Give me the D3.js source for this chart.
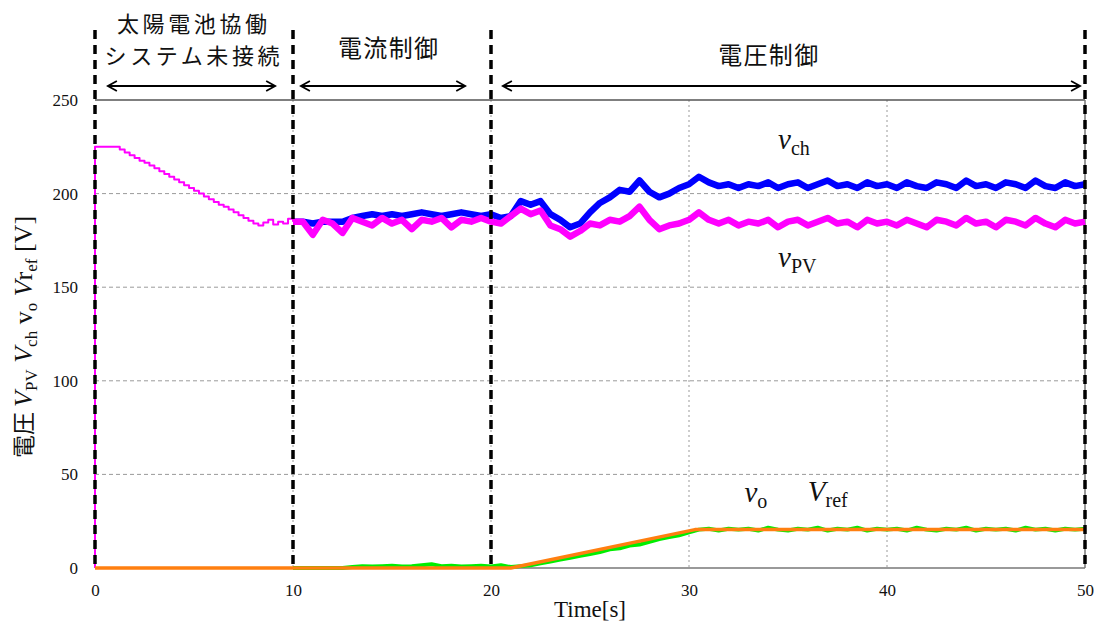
<!DOCTYPE html>
<html>
<head>
<meta charset="UTF-8">
<script src="https://d3js.org/d3.v7.min.js"></script>
<style>
  body { margin: 0; background: #fff; }
  text { font-family: "Liberation Serif", "Times New Roman", serif; fill: #111; }
  .jp { font-family: "Noto Sans CJK JP", sans-serif; }
  .grid { stroke: #9a9a9a; stroke-width: 1; }
  .series { fill: none; stroke-linejoin: round; }
</style>
</head>
<body>
<svg width="1096" height="625"></svg>
<script>
// ---- data ----
const yTicks = [0, 50, 100, 150, 200, 250];
const xTicks = [0, 10, 20, 30, 40, 50];

// V_PV : start jump, then 0.25 s samples to 10 s, then 0.5 s samples
const pvTimes = [0].concat(d3.range(0, 10, 0.25), d3.range(10, 50.001, 0.5));
const pvValues = [0,
  225, 225, 225, 225, 225, 223.5, 222, 220.5, 219, 217.5, 216.5, 215, 213.5, 212, 210.5, 209,
  207.5, 206, 204.5, 203, 201.5, 200, 198.5, 197, 195.5, 194, 193, 191.5, 190, 188.5, 187, 185.5,
  184, 183, 184.5, 186, 183.5, 185, 184, 186.5,
  185, 185, 178, 186, 184, 179, 187, 185, 183, 187, 184, 186, 181, 186, 185, 187, 182, 186, 185, 187, 185,
  184, 188, 192, 189, 191, 183, 181, 177, 180, 184, 183, 186, 185, 188, 193, 186, 181, 183, 184, 186,
  190, 186, 184, 186, 183, 185, 184, 186, 182, 185, 186, 183, 185, 187, 184, 185, 182, 186, 184, 185,
  183, 186, 184, 182, 186, 185, 183, 187, 184, 185, 182, 186, 185, 183, 187, 184, 182, 186, 184, 185];

// V_ch and v_o : 0.5 s samples from 10 s
const chTimes = d3.range(10, 50.001, 0.5);
const chValues = [
  185, 185, 184, 185, 185, 185, 187, 188, 189, 188, 189, 188, 189, 190, 189, 188, 189, 190, 189, 188, 189,
  187, 188, 196, 194, 196, 189, 186, 182, 184, 190, 195, 198, 202, 201, 207, 201, 198, 200, 203, 205,
  209, 206, 204, 205, 203, 205, 204, 206, 203, 205, 206, 203, 205, 207, 204, 205, 203, 206, 204, 205,
  203, 206, 204, 203, 206, 205, 203, 207, 204, 205, 203, 206, 205, 203, 207, 204, 203, 206, 204, 205];

const voTimes = d3.range(10, 50.001, 0.5);
const voValues = [
  0, 0, 0, 0, 0, 0, 0.5, 1, 0.8, 1, 1.2, 0.8, 1, 1.5, 2, 1, 1.2, 0.8, 1, 1.2, 0.8,
  1.5, 0.5, 1, 1.5, 2.5, 3.5, 4.5, 5.5, 6.5, 7.5, 8.5, 10, 10.5, 12, 12.5, 14, 15.5, 16.5, 17.5, 19,
  20.5, 21, 20, 21, 20.5, 21, 20, 21.5, 20.5, 20, 21, 20.5, 21.5, 20, 21, 20.5, 21.5, 20, 21, 20.5,
  21, 20, 21.5, 20.5, 20, 21, 20.5, 21.5, 20, 21, 20.5, 21, 20, 21.5, 20.5, 21, 20, 21, 20.5, 21];

// V_ref : breakpoints
const refTimes = [0, 21, 30.3, 50];
const refValues = [0, 0, 20.5, 20.5];

// phases along the top
const phaseLines = [0, 10, 20, 50];
const phaseNames = [["太陽電池協働", "システム未接続"], ["電流制御"], ["電圧制御"]];
const phaseCenter = [4.9, 14.8, 34.0];
const arrowFrom = [0.65, 10.4, 20.6];
const arrowTo = [9.1, 18.7, 49.75];

// ---- layout ----
const svg = d3.select("svg");
const x = d3.scaleLinear().domain([0, 50]).range([95, 1085]);
const y = d3.scaleLinear().domain([0, 250]).range([568, 100]);

// grid
svg.append("g").selectAll("line").data([50, 100, 150, 200]).enter().append("line")
  .attr("class", "grid").attr("stroke-dasharray", "4,3")
  .attr("x1", x(0)).attr("x2", x(50)).attr("y1", d => y(d)).attr("y2", d => y(d));
svg.append("g").selectAll("line").data([10, 20, 30, 40]).enter().append("line")
  .attr("class", "grid").attr("stroke-dasharray", "2,3")
  .attr("x1", d => x(d)).attr("x2", d => x(d)).attr("y1", y(250)).attr("y2", y(0));

// frame
svg.append("line").attr("x1", x(0)).attr("x2", x(50)).attr("y1", y(250)).attr("y2", y(250))
  .attr("stroke", "#555").attr("stroke-width", 1.5);
svg.append("line").attr("x1", x(0)).attr("x2", x(50)).attr("y1", y(0)).attr("y2", y(0))
  .attr("stroke", "#777").attr("stroke-width", 1.5);
svg.append("line").attr("x1", x(50)).attr("x2", x(50)).attr("y1", y(250)).attr("y2", y(0))
  .attr("stroke", "#777").attr("stroke-width", 1.5);

// axes
const yAxis = svg.append("g").attr("transform", "translate(" + (x(0) - 13) + ",0)")
  .call(d3.axisLeft(y).tickValues(yTicks).tickSize(0).tickPadding(4));
const xAxis = svg.append("g").attr("transform", "translate(0," + (y(0) + 12) + ")")
  .call(d3.axisBottom(x).tickValues(xTicks).tickSize(0).tickPadding(4));
[yAxis, xAxis].forEach(a => {
  a.select(".domain").remove();
  a.selectAll("text").attr("font-size", 17).attr("fill", "#111")
    .style("font-family", "'Liberation Serif', serif");
});

// series
const stepLine = d3.line().x(d => x(d[0])).y(d => y(d[1])).curve(d3.curveStepAfter);
const noisyLine = d3.line().x(d => x(d[0])).y(d => y(d[1]));

const pv = d3.zip(pvTimes, pvValues);
const pvSplit = pvTimes.indexOf(10);

svg.append("path").attr("class", "series").attr("d", noisyLine(d3.zip(chTimes, chValues)))
  .attr("stroke", "#0000ff").attr("stroke-width", 6.5);
svg.append("path").attr("class", "series").attr("d", stepLine(pv.slice(0, pvSplit + 1)))
  .attr("stroke", "#ff00ff").attr("stroke-width", 2);
svg.append("path").attr("class", "series").attr("d", noisyLine(pv.slice(pvSplit)))
  .attr("stroke", "#ff00ff").attr("stroke-width", 6.5);
svg.append("path").attr("class", "series").attr("d", noisyLine(d3.zip(voTimes, voValues)))
  .attr("stroke", "#00ee00").attr("stroke-width", 4);
svg.append("path").attr("class", "series").attr("d", noisyLine(d3.zip(refTimes, refValues)))
  .attr("stroke", "#ff7f10").attr("stroke-width", 3.5);

// phase boundaries (thick dashed)
svg.append("g").selectAll("line").data(phaseLines).enter().append("line")
  .attr("x1", d => x(d)).attr("x2", d => x(d)).attr("y1", 30).attr("y2", y(0))
  .attr("stroke", "#000").attr("stroke-width", 3.5).attr("stroke-dasharray", "9,6");

// arrows
const defs = svg.append("defs");
defs.append("marker").attr("id", "head").attr("viewBox", "-10 -6 12 12")
  .attr("refX", 0).attr("refY", 0).attr("markerWidth", 12).attr("markerHeight", 12)
  .attr("markerUnits", "userSpaceOnUse").attr("orient", "auto-start-reverse")
  .append("path").attr("d", "M-9,-5 L0,0 L-9,5").attr("fill", "none")
  .attr("stroke", "#000").attr("stroke-width", 1.8);
svg.append("g").selectAll("line").data(arrowFrom).enter().append("line")
  .attr("x1", d => x(d)).attr("x2", (d, i) => x(arrowTo[i])).attr("y1", 86).attr("y2", 86)
  .attr("stroke", "#000").attr("stroke-width", 1.8)
  .attr("marker-start", "url(#head)").attr("marker-end", "url(#head)");

// phase titles
const titleY = [[32, 64], [57], [64]];
const titleSize = [22, 24, 24];
phaseNames.forEach((lines, i) => {
  lines.forEach((s, j) => {
    svg.append("text").attr("class", "jp").attr("x", x(phaseCenter[i])).attr("y", titleY[i][j])
      .attr("text-anchor", "middle").attr("font-size", titleSize[i])
      .attr("textLength", s.length * 25).text(s);
  });
});

// y axis title
const yt = svg.append("text").attr("transform", "translate(32,337) rotate(-90)")
  .attr("text-anchor", "middle").attr("font-size", 26);
yt.append("tspan").attr("class", "jp").attr("font-size", 23).text("電圧 ");
yt.append("tspan").attr("font-style", "italic").text("V");
yt.append("tspan").attr("font-size", 17).attr("dy", 5).text("PV");
yt.append("tspan").attr("dy", -5).text(" ");
yt.append("tspan").attr("font-style", "italic").text("V");
yt.append("tspan").attr("font-size", 17).attr("dy", 5).text("ch");
yt.append("tspan").attr("dy", -5).text(" v");
yt.append("tspan").attr("font-size", 17).attr("dy", 5).text("o");
yt.append("tspan").attr("dy", -5).text(" ");
yt.append("tspan").attr("font-style", "italic").text("V");
yt.append("tspan").text("r");
yt.append("tspan").attr("font-size", 17).attr("dy", 5).text("ef");
yt.append("tspan").attr("dy", -5).text(" [V]");

// x axis title
svg.append("text").attr("x", x(25)).attr("y", 617).attr("text-anchor", "middle")
  .attr("font-size", 23).text("Time[s]");

// series labels
const seriesLabels = [
  { main: "v", sub: "ch", t: 34.5, v: 224 },
  { main: "v", sub: "PV", t: 34.5, v: 161 },
  { main: "v", sub: "o", t: 32.8, v: 35 },
  { main: "V", sub: "ref", t: 36.0, v: 36 }
];
seriesLabels.forEach(l => {
  const tx = svg.append("text").attr("x", x(l.t)).attr("y", y(l.v)).attr("font-size", 29);
  tx.append("tspan").attr("font-style", "italic").text(l.main);
  tx.append("tspan").attr("font-size", 20).attr("dy", 6).text(l.sub);
});
</script>
</body>
</html>
